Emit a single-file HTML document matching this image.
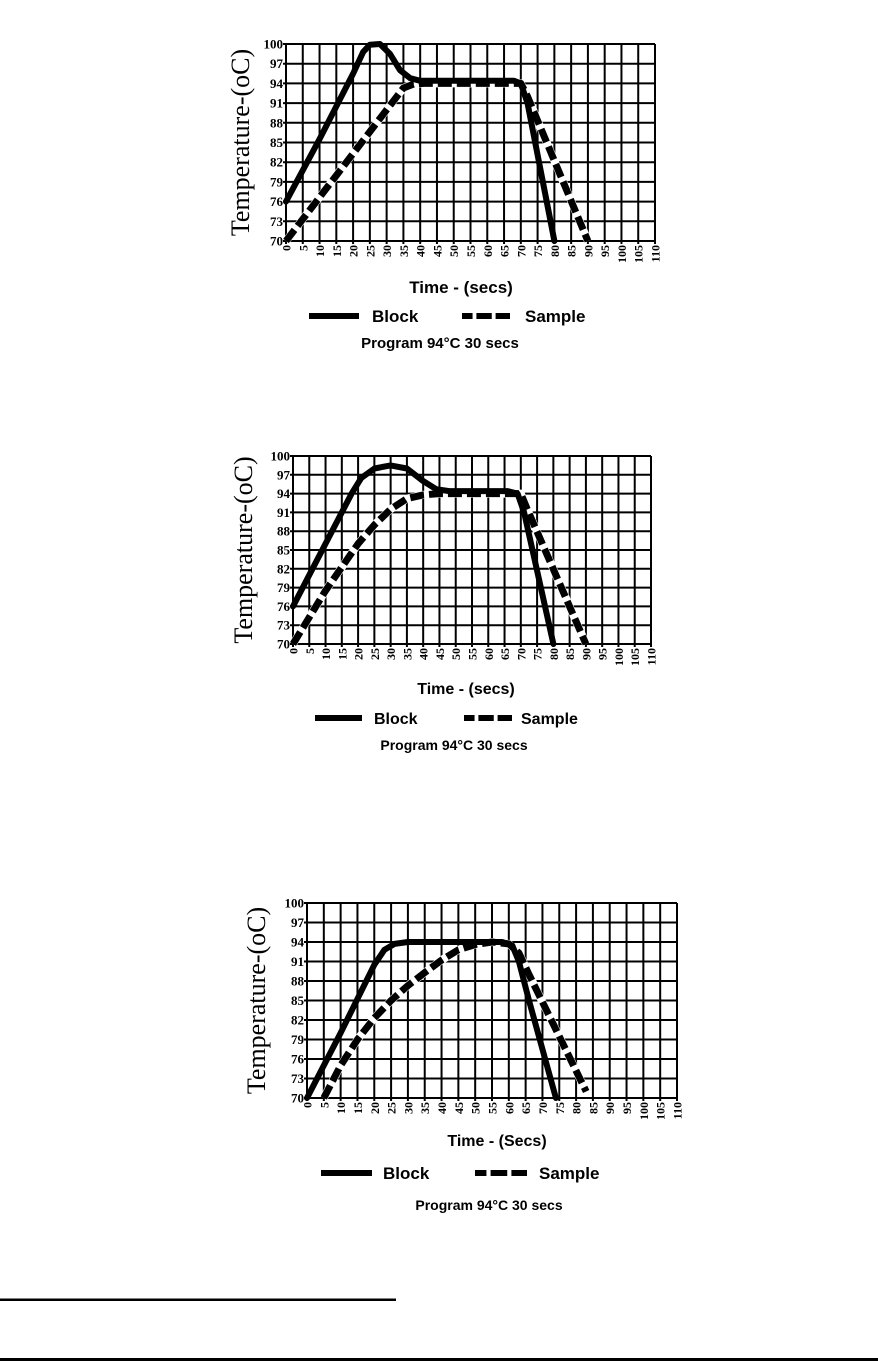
<!DOCTYPE html>
<html><head><meta charset="utf-8"><style>
html,body{margin:0;padding:0;background:#fff;}
body{width:878px;height:1361px;position:relative;overflow:hidden;}
svg{position:absolute;left:0;top:0;}
</style></head><body>
<svg id="s" width="878" height="1361" viewBox="0 0 878 1361" xmlns="http://www.w3.org/2000/svg">
<rect x="0" y="1298.5" width="396" height="2.5" fill="#000"/>
<rect x="0" y="1358" width="878" height="3" fill="#000"/>
</svg>
<script>
var NS="http://www.w3.org/2000/svg",S=document.getElementById('s');
function el(t,a,txt){var e=document.createElementNS(NS,t);for(var k in a)e.setAttribute(k,a[k]);if(txt!=null)e.textContent=txt;S.appendChild(e);return e;}
var charts=[
{x0:286,x1:655,y0:44,y1:241,lx:240,
 time:[461,287,17,"Time - (secs)"],leg:316,bar:[309,359],blk:372,dsh:[462,510],smp:525,fs:17,prog:[440,343,15,"Program 94°C 30 secs"],
 b:[[0,76],[10,85.5],[20,95.5],[23,98.8],[25,99.9],[28,100],[31,98.5],[34,96],[37,94.8],[40,94.4],[68,94.4],[70,94],[72,91],[80,70]],
 s:[[0,70],[35,93.3],[38,93.9],[41,94],[70,94],[72,92],[90,70]]},
{x0:293,x1:651,y0:456,y1:644,lx:243,
 time:[466,688,16,"Time - (secs)"],leg:718,bar:[315,362],blk:374,dsh:[464,512],smp:521,fs:16,prog:[454,745,14,"Program 94°C  30 secs"],
 b:[[0,76],[10,86],[18,94],[21,96.5],[25,98],[30,98.5],[35,98],[40,96],[44,94.7],[48,94.4],[66,94.4],[69,94],[71,91],[80,70]],
 s:[[0,70],[10,78.5],[20,86],[25,89],[30,91.5],[35,93.2],[40,93.8],[45,94],[70,94],[72,91.5],[90,70]]},
{x0:307,x1:677,y0:903,y1:1098,lx:256,
 time:[497,1140,16,"Time - (Secs)"],leg:1173,bar:[321,372],blk:383,dsh:[475,527],smp:539,fs:17,prog:[489,1205,14,"Program 94°C 30 secs"],
 b:[[0,70],[10,80],[20,90.5],[23,92.8],[26,93.7],[30,94],[58,94],[61,93.5],[63,91],[66,85],[74,70]],
 s:[[5,70],[10,75],[15,79],[20,82.3],[25,85],[30,87.3],[35,89.3],[40,91.2],[45,92.8],[50,93.6],[55,94],[60,93.7],[63,92.3],[66,89],[83,71]]}
];
charts.forEach(function(c){
 var W=c.x1-c.x0,H=c.y1-c.y0;
 function X(v){return c.x0+v/110*W;} function Y(v){return c.y1-(v-70)/30*H;}
 for(var i=0;i<=22;i++){var x=c.x0+i*W/22;el('line',{x1:x,y1:c.y0,x2:x,y2:c.y1+3,stroke:'#000','stroke-width':2});
  el('text',{x:0,y:0,transform:'translate('+(x+4.5)+','+(c.y1+4)+') rotate(-90)','text-anchor':'end','font-family':'Liberation Serif, serif','font-size':12,'font-weight':'bold'},String(i*5));}
 for(var j=0;j<=10;j++){var y=c.y1-j*H/10;el('line',{x1:c.x0-3,y1:y,x2:c.x1,y2:y,stroke:'#000','stroke-width':2});
  el('text',{x:c.x0-3,y:y+4.5,'text-anchor':'end','font-family':'Liberation Serif, serif','font-size':13,'font-weight':'bold'},String(70+j*3));}
 el('text',{x:0,y:0,transform:'translate('+(c.lx+9)+','+((c.y0+c.y1)/2)+') rotate(-90)','text-anchor':'middle','font-family':'Liberation Serif, serif','font-size':26},"Temperature-(oC)");
 function pts(a){return a.map(function(p){return X(p[0]).toFixed(1)+','+Y(p[1]).toFixed(1);}).join(' ');}
 el('polyline',{points:pts(c.s),fill:'none',stroke:'#fff','stroke-width':8,'stroke-linejoin':'round'});
 el('polyline',{points:pts(c.s),fill:'none',stroke:'#000','stroke-width':7,'stroke-dasharray':'14 5','stroke-linejoin':'round'});
 el('polyline',{points:pts(c.b),fill:'none',stroke:'#000','stroke-width':6,'stroke-linejoin':'round','stroke-linecap':'round'});
 var F='Liberation Sans, sans-serif';
 el('text',{x:c.time[0],y:c.time[1]+6,'text-anchor':'middle','font-family':F,'font-size':c.time[2],'font-weight':'bold'},c.time[3]);
 el('rect',{x:c.bar[0],y:c.leg-3,width:c.bar[1]-c.bar[0],height:6,fill:'#000'});
 el('text',{x:c.blk,y:c.leg+6,'font-family':F,'font-size':c.fs,'font-weight':'bold'},"Block");
 var d=c.dsh,w=(d[1]-d[0]);
 el('rect',{x:d[0],y:c.leg-3,width:w*0.22,height:6,fill:'#000'});
 el('rect',{x:d[0]+w*0.3,y:c.leg-3,width:w*0.32,height:6,fill:'#000'});
 el('rect',{x:d[0]+w*0.7,y:c.leg-3,width:w*0.3,height:6,fill:'#000'});
 el('text',{x:c.smp,y:c.leg+6,'font-family':F,'font-size':c.fs,'font-weight':'bold'},"Sample");
 el('text',{x:c.prog[0],y:c.prog[1]+5,'text-anchor':'middle','font-family':F,'font-size':c.prog[2],'font-weight':'bold'},c.prog[3]);
});
</script>
</body></html>
